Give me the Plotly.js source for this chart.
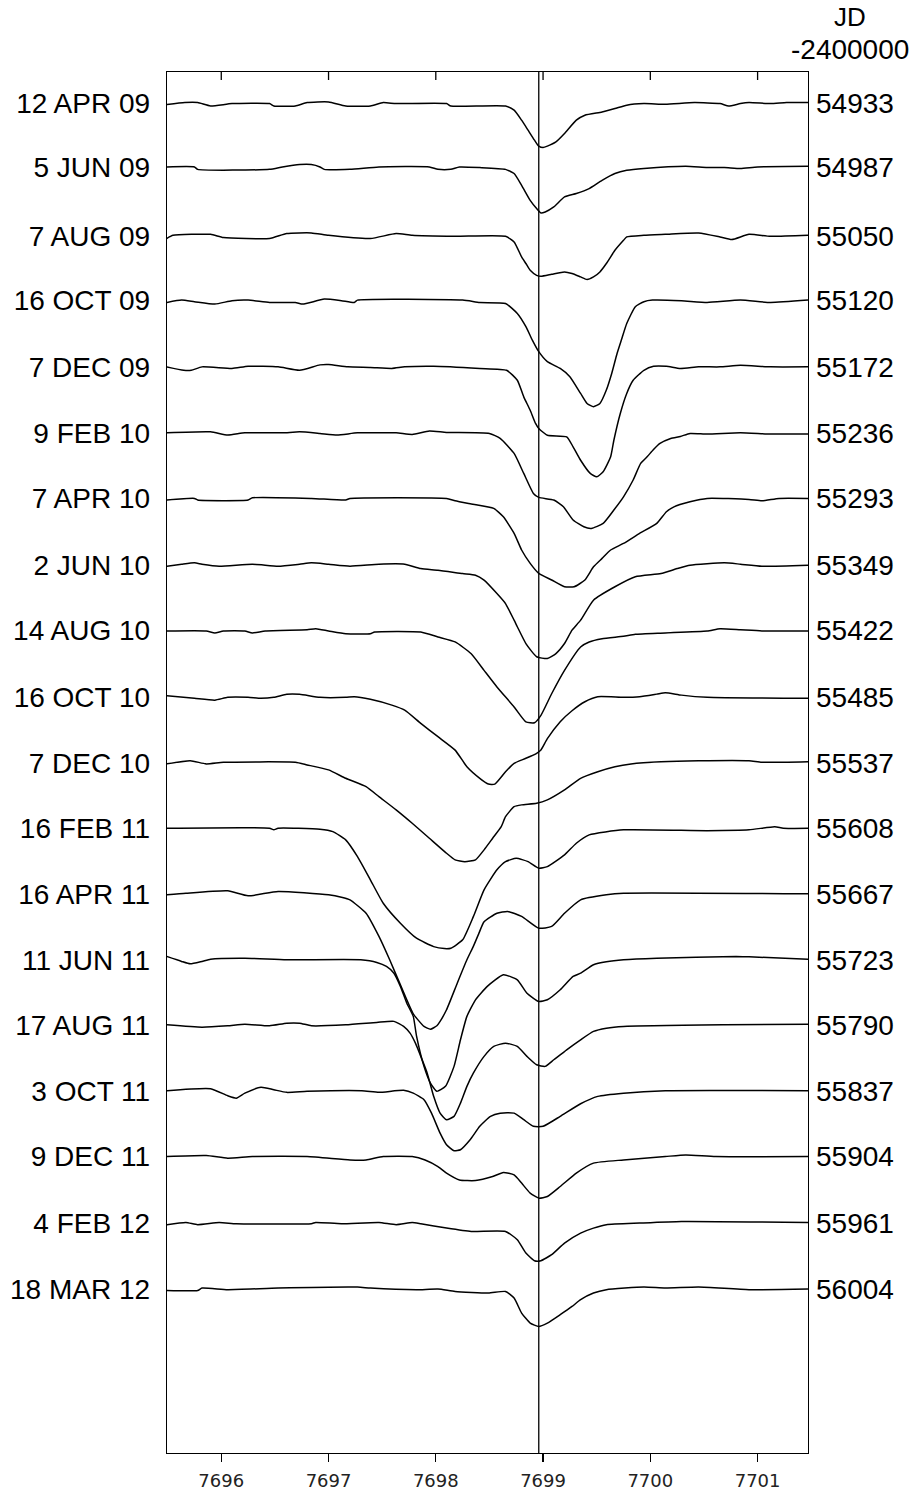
<!DOCTYPE html>
<html>
<head>
<meta charset="utf-8">
<script src="https://cdn.plot.ly/plotly-3.0.1.min.js"></script>
<style>html,body{margin:0;padding:0;background:#fff;}#chart{width:919px;height:1492px;}</style>
</head>
<body>
<div id="chart"></div>
<script>
// Observation dates (left labels) and Julian dates - 2400000 (right labels)
const dates = ["12 APR 09","5 JUN 09","7 AUG 09","16 OCT 09","7 DEC 09","9 FEB 10","7 APR 10","2 JUN 10","14 AUG 10","16 OCT 10","7 DEC 10","16 FEB 11","16 APR 11","11 JUN 11","17 AUG 11","3 OCT 11","9 DEC 11","4 FEB 12","18 MAR 12"];
const jds = ["54933","54987","55050","55120","55172","55236","55293","55349","55422","55485","55537","55608","55667","55723","55790","55837","55904","55961","56004"];
// vertical offset of each spectrum (continuum units)
const offsets = [0, 0.317, 0.662, 0.983, 1.317, 1.65, 1.975, 2.309, 2.635, 2.967, 3.30, 3.625, 3.953, 4.283, 4.608, 4.938, 5.267, 5.60, 5.93];
const xTicks = [7696, 7697, 7698, 7699, 7700, 7701];
const restWavelength = 7698.96;

// Spectra: [wavelength (A), normalized flux]
const spec_12APR09 = [[7695.49,0.995],[7695.66,1.005],[7695.78,1.005],[7695.90,0.988],[7696.10,1.0],[7696.45,1.0],[7696.49,0.988],[7696.69,0.988],[7696.80,1.005],[7697.0,1.008],[7697.16,0.988],[7697.39,0.988],[7697.51,1.005],[7697.63,1.0],[7698.10,1.0],[7698.14,0.988],[7698.65,0.988],[7698.73,0.967],[7698.80,0.917],[7698.86,0.867],[7698.92,0.817],[7698.96,0.787],[7699.0,0.78],[7699.04,0.787],[7699.12,0.808],[7699.20,0.85],[7699.31,0.917],[7699.39,0.942],[7699.55,0.958],[7699.67,0.975],[7699.78,0.992],[7699.94,1.0],[7700.14,0.997],[7700.41,1.005],[7700.65,1.0],[7700.73,0.988],[7700.84,1.0],[7700.92,1.005],[7701.12,1.0],[7701.27,1.005],[7701.47,1.005]];
const spec_5JUN09 = [[7695.49,1.0],[7695.75,1.0],[7695.78,0.988],[7696.45,0.988],[7696.57,1.0],[7696.73,1.012],[7696.84,1.012],[7696.92,1.0],[7696.96,0.988],[7697.20,0.988],[7697.47,1.0],[7697.94,1.0],[7698.02,0.988],[7698.14,0.988],[7698.22,1.0],[7698.41,0.997],[7698.65,0.988],[7698.73,0.967],[7698.80,0.908],[7698.88,0.833],[7698.94,0.792],[7698.98,0.77],[7699.02,0.775],[7699.10,0.80],[7699.20,0.85],[7699.31,0.867],[7699.43,0.892],[7699.55,0.933],[7699.67,0.967],[7699.78,0.983],[7699.94,0.992],[7700.33,1.003],[7700.53,0.997],[7700.69,0.997],[7700.84,0.992],[7701.0,1.0],[7701.47,1.003]];
const spec_7AUG09 = [[7695.49,0.987],[7695.55,1.003],[7695.90,1.008],[7696.02,0.992],[7696.45,0.987],[7696.61,1.012],[7696.84,1.015],[7697.0,1.003],[7697.39,0.987],[7697.63,1.012],[7697.78,1.003],[7698.18,0.998],[7698.65,0.998],[7698.73,0.97],[7698.80,0.895],[7698.84,0.862],[7698.88,0.828],[7698.94,0.803],[7698.98,0.798],[7699.08,0.808],[7699.20,0.82],[7699.27,0.812],[7699.35,0.795],[7699.41,0.782],[7699.47,0.795],[7699.53,0.82],[7699.59,0.862],[7699.65,0.912],[7699.67,0.928],[7699.75,0.978],[7699.78,0.995],[7699.94,1.003],[7700.14,1.008],[7700.45,1.015],[7700.65,0.995],[7700.76,0.982],[7700.92,1.008],[7701.12,0.998],[7701.47,1.003]];
const spec_16OCT09 = [[7695.49,0.988],[7695.63,1.0],[7695.75,0.992],[7695.94,0.98],[7696.10,0.997],[7696.25,1.0],[7696.45,0.988],[7696.69,0.988],[7696.76,0.98],[7696.96,1.005],[7697.12,0.997],[7697.24,0.988],[7697.27,1.0],[7698.25,1.0],[7698.41,0.988],[7698.65,0.983],[7698.76,0.933],[7698.84,0.867],[7698.90,0.8],[7698.96,0.742],[7699.04,0.692],[7699.16,0.658],[7699.25,0.617],[7699.35,0.533],[7699.41,0.483],[7699.47,0.467],[7699.53,0.483],[7699.59,0.55],[7699.64,0.633],[7699.69,0.733],[7699.73,0.8],[7699.78,0.883],[7699.86,0.967],[7699.94,0.992],[7700.02,1.0],[7700.29,0.997],[7700.53,0.988],[7700.84,1.0],[7701.12,0.988],[7701.47,1.0]];
const spec_7DEC09 = [[7695.49,1.0],[7695.65,0.983],[7695.72,0.983],[7695.82,1.0],[7696.10,0.992],[7696.25,1.003],[7696.53,1.0],[7696.73,0.983],[7696.92,1.01],[7697.0,1.012],[7697.18,1.0],[7697.39,0.997],[7697.59,0.992],[7697.71,1.0],[7697.98,1.003],[7698.41,0.992],[7698.66,0.983],[7698.76,0.933],[7698.82,0.85],[7698.88,0.783],[7698.93,0.717],[7698.96,0.692],[7699.04,0.658],[7699.22,0.65],[7699.28,0.6],[7699.35,0.533],[7699.44,0.467],[7699.50,0.45],[7699.56,0.475],[7699.63,0.55],[7699.66,0.633],[7699.72,0.767],[7699.78,0.867],[7699.84,0.933],[7699.94,0.983],[7700.03,1.003],[7700.15,1.003],[7700.28,0.992],[7700.45,1.0],[7700.65,1.0],[7700.84,1.008],[7701.12,1.0],[7701.47,1.0]];
const spec_9FEB10 = [[7695.49,1.003],[7695.90,1.008],[7696.06,0.992],[7696.22,1.003],[7696.57,1.003],[7696.73,1.008],[7696.92,1.0],[7697.08,0.992],[7697.27,1.003],[7697.63,1.003],[7697.78,0.995],[7697.94,1.012],[7698.10,1.005],[7698.50,1.0],[7698.60,0.975],[7698.73,0.9],[7698.82,0.8],[7698.91,0.7],[7698.96,0.68],[7699.10,0.667],[7699.19,0.633],[7699.28,0.567],[7699.38,0.533],[7699.45,0.525],[7699.56,0.55],[7699.66,0.617],[7699.75,0.683],[7699.84,0.767],[7699.91,0.85],[7699.97,0.883],[7700.03,0.92],[7700.09,0.95],[7700.19,0.975],[7700.28,0.985],[7700.37,1.0],[7700.53,0.997],[7700.84,1.003],[7701.12,0.997],[7701.47,0.997]];
const spec_7APR10 = [[7695.49,0.992],[7695.75,1.0],[7695.78,0.992],[7696.25,0.992],[7696.29,1.003],[7696.84,1.0],[7697.16,0.992],[7697.20,1.0],[7698.10,1.0],[7698.18,0.988],[7698.33,0.972],[7698.54,0.95],[7698.63,0.908],[7698.73,0.825],[7698.80,0.742],[7698.88,0.675],[7698.96,0.625],[7699.08,0.592],[7699.20,0.558],[7699.29,0.558],[7699.39,0.592],[7699.47,0.658],[7699.55,0.70],[7699.63,0.742],[7699.75,0.775],[7699.90,0.825],[7700.06,0.875],[7700.15,0.933],[7700.22,0.958],[7700.37,0.983],[7700.53,1.0],[7700.92,0.995],[7701.04,0.988],[7701.20,1.0],[7701.47,1.0]];
const spec_2JUN10 = [[7695.49,0.995],[7695.63,1.005],[7695.75,1.012],[7695.82,1.005],[7695.98,0.995],[7696.29,1.005],[7696.53,0.995],[7696.73,1.005],[7696.84,1.012],[7697.0,1.005],[7697.20,0.995],[7697.47,1.005],[7697.71,1.005],[7697.86,0.983],[7698.02,0.975],[7698.25,0.958],[7698.37,0.95],[7698.45,0.925],[7698.57,0.858],[7698.65,0.808],[7698.73,0.725],[7698.76,0.692],[7698.84,0.608],[7698.94,0.542],[7699.04,0.533],[7699.12,0.558],[7699.20,0.608],[7699.27,0.675],[7699.35,0.725],[7699.47,0.825],[7699.67,0.892],[7699.86,0.942],[7700.10,0.958],[7700.25,0.983],[7700.37,1.0],[7700.69,1.012],[7700.84,1.005],[7701.04,0.995],[7701.47,1.0]];
const spec_14AUG10 = [[7695.49,0.997],[7695.86,0.997],[7695.94,0.987],[7696.02,0.997],[7696.22,0.997],[7696.29,0.987],[7696.41,0.997],[7696.80,1.003],[7696.88,1.008],[7697.0,0.997],[7697.16,0.983],[7697.39,0.983],[7697.43,0.992],[7697.86,0.992],[7698.02,0.967],[7698.18,0.942],[7698.33,0.883],[7698.45,0.80],[7698.57,0.717],[7698.73,0.617],[7698.84,0.542],[7698.92,0.538],[7698.98,0.575],[7699.08,0.683],[7699.20,0.80],[7699.35,0.917],[7699.43,0.942],[7699.55,0.958],[7699.75,0.97],[7699.86,0.98],[7700.14,0.987],[7700.53,0.997],[7700.65,1.008],[7700.84,1.003],[7701.04,0.997],[7701.47,0.997]];
const spec_16OCT10 = [[7695.49,1.005],[7695.75,0.992],[7695.94,0.983],[7696.06,0.997],[7696.25,0.997],[7696.37,0.992],[7696.49,0.997],[7696.61,1.012],[7696.73,1.012],[7696.92,0.997],[7697.16,0.997],[7697.24,1.0],[7697.39,0.987],[7697.59,0.958],[7697.71,0.933],[7697.86,0.867],[7698.02,0.80],[7698.18,0.733],[7698.29,0.65],[7698.41,0.592],[7698.49,0.563],[7698.55,0.563],[7698.65,0.625],[7698.73,0.667],[7698.84,0.692],[7698.94,0.717],[7698.98,0.733],[7699.04,0.79],[7699.16,0.875],[7699.27,0.93],[7699.39,0.975],[7699.51,1.0],[7699.75,0.997],[7699.90,1.0],[7700.06,1.013],[7700.14,1.02],[7700.29,1.008],[7700.53,0.997],[7701.47,0.992]];
const spec_7DEC10 = [[7695.49,0.997],[7695.71,1.013],[7695.86,0.997],[7696.02,1.005],[7696.69,1.005],[7696.80,0.992],[7697.0,0.967],[7697.16,0.925],[7697.35,0.883],[7697.47,0.833],[7697.63,0.767],[7697.78,0.70],[7697.94,0.625],[7698.10,0.55],[7698.18,0.517],[7698.27,0.508],[7698.37,0.517],[7698.45,0.567],[7698.53,0.625],[7698.61,0.683],[7698.65,0.733],[7698.73,0.783],[7698.80,0.792],[7698.94,0.80],[7699.04,0.817],[7699.20,0.867],[7699.35,0.925],[7699.51,0.958],[7699.67,0.983],[7699.82,0.997],[7700.10,1.008],[7700.45,1.013],[7700.92,1.013],[7701.04,1.005],[7701.47,1.008]];
const spec_16FEB11 = [[7695.49,1.0],[7696.45,1.0],[7696.49,0.992],[7696.53,1.0],[7696.92,0.995],[7697.04,0.983],[7697.16,0.942],[7697.27,0.858],[7697.39,0.742],[7697.51,0.625],[7697.67,0.525],[7697.82,0.45],[7697.98,0.408],[7698.08,0.398],[7698.14,0.40],[7698.25,0.442],[7698.35,0.558],[7698.45,0.692],[7698.57,0.792],[7698.65,0.833],[7698.75,0.85],[7698.86,0.833],[7698.96,0.80],[7699.04,0.808],[7699.20,0.867],[7699.31,0.925],[7699.43,0.967],[7699.75,0.992],[7700.53,0.988],[7700.92,0.992],[7701.16,1.008],[7701.24,1.0],[7701.47,1.0]];
const spec_16APR11 = [[7695.49,0.995],[7695.67,1.003],[7696.06,1.015],[7696.25,0.99],[7696.53,1.012],[7697.0,0.995],[7697.12,0.983],[7697.20,0.97],[7697.35,0.903],[7697.47,0.787],[7697.57,0.67],[7697.67,0.545],[7697.79,0.40],[7697.89,0.337],[7697.95,0.323],[7698.01,0.34],[7698.04,0.362],[7698.10,0.42],[7698.20,0.553],[7698.29,0.67],[7698.35,0.737],[7698.40,0.80],[7698.45,0.86],[7698.57,0.903],[7698.67,0.912],[7698.80,0.887],[7698.96,0.828],[7699.08,0.837],[7699.20,0.903],[7699.35,0.97],[7699.59,0.995],[7699.75,1.003],[7701.47,1.0]];
const spec_11JUN11 = [[7695.49,1.017],[7695.63,0.992],[7695.71,0.98],[7695.82,0.992],[7695.90,1.003],[7696.22,1.008],[7696.61,1.0],[7697.30,1.0],[7697.45,0.987],[7697.54,0.967],[7697.61,0.933],[7697.67,0.867],[7697.73,0.783],[7697.79,0.717],[7697.82,0.62],[7697.89,0.467],[7697.95,0.383],[7698.01,0.342],[7698.09,0.367],[7698.17,0.467],[7698.23,0.60],[7698.29,0.717],[7698.37,0.80],[7698.48,0.867],[7698.63,0.925],[7698.76,0.90],[7698.85,0.833],[7698.96,0.792],[7699.04,0.80],[7699.16,0.85],[7699.28,0.917],[7699.35,0.933],[7699.47,0.975],[7699.59,0.99],[7699.75,1.0],[7700.06,1.008],[7700.80,1.017],[7700.92,1.015],[7701.47,1.003]];
const spec_17AUG11 = [[7695.49,1.0],[7695.82,0.988],[7696.06,0.995],[7696.22,1.003],[7696.45,0.995],[7696.61,1.008],[7696.73,1.008],[7696.84,0.995],[7697.16,1.0],[7697.45,1.012],[7697.61,1.017],[7697.70,0.992],[7697.76,0.958],[7697.81,0.908],[7697.86,0.842],[7697.92,0.758],[7697.98,0.642],[7698.04,0.558],[7698.10,0.525],[7698.17,0.542],[7698.23,0.608],[7698.29,0.692],[7698.35,0.758],[7698.45,0.842],[7698.54,0.892],[7698.65,0.908],[7698.76,0.892],[7698.85,0.842],[7698.94,0.80],[7699.02,0.792],[7699.10,0.825],[7699.22,0.875],[7699.35,0.925],[7699.47,0.967],[7699.59,0.983],[7699.75,0.992],[7700.69,1.0],[7701.47,1.003]];
const spec_3OCT11 = [[7695.49,1.0],[7695.90,1.01],[7696.06,0.975],[7696.14,0.963],[7696.22,0.988],[7696.37,1.018],[7696.49,1.005],[7696.61,0.992],[7696.80,0.997],[7697.31,1.0],[7697.47,0.992],[7697.70,1.002],[7697.79,0.988],[7697.89,0.955],[7697.96,0.888],[7698.04,0.788],[7698.10,0.73],[7698.17,0.70],[7698.23,0.705],[7698.32,0.755],[7698.41,0.822],[7698.51,0.872],[7698.60,0.888],[7698.73,0.888],[7698.82,0.855],[7698.91,0.822],[7699.0,0.822],[7699.16,0.872],[7699.35,0.935],[7699.51,0.972],[7699.75,0.988],[7700.14,1.0],[7701.47,1.0]];
const spec_9DEC11 = [[7695.49,1.0],[7695.86,1.005],[7696.06,0.992],[7696.29,1.0],[7696.80,1.0],[7697.20,0.983],[7697.35,0.983],[7697.51,1.0],[7697.78,1.0],[7697.90,0.983],[7698.02,0.95],[7698.10,0.917],[7698.22,0.883],[7698.37,0.88],[7698.53,0.90],[7698.63,0.92],[7698.73,0.908],[7698.80,0.867],[7698.88,0.817],[7698.96,0.792],[7699.04,0.80],[7699.16,0.85],[7699.31,0.917],[7699.47,0.967],[7699.75,0.983],[7700.14,1.0],[7700.33,1.008],[7700.61,1.0],[7701.47,1.0]];
const spec_4FEB12 = [[7695.49,0.992],[7695.67,1.003],[7695.78,0.992],[7695.98,1.003],[7696.14,0.997],[7696.84,0.997],[7696.88,1.003],[7697.12,0.997],[7697.47,1.003],[7697.63,0.992],[7697.78,1.003],[7697.86,0.997],[7698.10,0.975],[7698.33,0.958],[7698.65,0.958],[7698.76,0.917],[7698.84,0.85],[7698.92,0.812],[7698.98,0.812],[7699.08,0.842],[7699.20,0.90],[7699.35,0.95],[7699.47,0.975],[7699.59,0.992],[7699.90,1.0],[7700.29,1.008],[7701.47,1.003]];
const spec_18MAR12 = [[7695.49,0.993],[7695.78,0.993],[7695.82,1.005],[7696.06,0.997],[7696.53,1.005],[7697.27,1.01],[7697.39,1.005],[7697.82,0.997],[7698.02,1.0],[7698.18,0.988],[7698.49,0.98],[7698.65,0.988],[7698.73,0.955],[7698.80,0.88],[7698.88,0.83],[7698.96,0.813],[7699.04,0.83],[7699.16,0.872],[7699.27,0.913],[7699.35,0.947],[7699.47,0.98],[7699.59,0.997],[7699.94,1.01],[7700.14,1.005],[7700.45,1.01],[7700.92,0.997],[7701.47,1.0]];

const spectra = [spec_12APR09, spec_5JUN09, spec_7AUG09, spec_16OCT09, spec_7DEC09, spec_9FEB10, spec_7APR10, spec_2JUN10, spec_14AUG10, spec_16OCT10, spec_7DEC10, spec_16FEB11, spec_16APR11, spec_11JUN11, spec_17AUG11, spec_3OCT11, spec_9DEC11, spec_4FEB12, spec_18MAR12];

const xRange = [7695.494, 7701.47];
const yRange = [-5.75, 1.158];
const baseVals = offsets.map(o => 1 - o);
const plotH = 1492 - 72 - 39;

const traces = spectra.map((s, i) => ({
  type: 'scatter', mode: 'lines',
  x: s.map(p => p[0]),
  y: s.map(p => p[1] - offsets[i]),
  line: {color: '#000', width: 1.5, shape: 'spline', smoothing: 0.5},
  name: dates[i], hoverinfo: 'skip', showlegend: false
}));
// helper trace carrying the right-hand axis
traces.push({type: 'scatter', mode: 'lines', x: [null], y: [null], yaxis: 'y2', showlegend: false, hoverinfo: 'skip'});

const labelFont = {family: 'Liberation Sans, Arial, sans-serif', size: 28, color: '#000'};
const jdFont = {family: 'Liberation Sans, Arial, sans-serif', size: 26, color: '#000'};

// inward tick marks along the top frame, at the same wavelengths as the bottom axis ticks
const topTicks = xTicks.map(t => ({type: 'line', xref: 'x', yref: 'paper', x0: t, x1: t, y0: 1, y1: 1 - 8 / plotH,
                                   line: {color: '#000', width: 1.3}}));

const layout = {
  width: 919, height: 1492,
  margin: {l: 167, r: 111, t: 72, b: 39},
  paper_bgcolor: '#fff', plot_bgcolor: '#fff',
  showlegend: false,
  xaxis: {
    range: xRange, tickmode: 'array', tickvals: xTicks, ticktext: xTicks.map(String),
    ticks: 'outside', ticklen: 8, tickwidth: 1.3, tickcolor: '#000',
    showline: true, mirror: true, linecolor: '#000', linewidth: 1.3,
    showgrid: false, zeroline: false,
    tickfont: {family: 'DejaVu Sans, Verdana, sans-serif', size: 18, color: '#222'},
    ticklabelstandoff: 3
  },
  yaxis: {
    range: yRange, tickmode: 'array', tickvals: baseVals, ticktext: dates,
    ticks: '', showline: true, mirror: true, linecolor: '#000', linewidth: 1.3,
    showgrid: false, zeroline: false, tickfont: labelFont, ticklabelstandoff: 10
  },
  yaxis2: {
    overlaying: 'y', side: 'right', anchor: 'x', range: yRange,
    tickmode: 'array', tickvals: baseVals, ticktext: jds,
    ticks: '', showline: false, showgrid: false, zeroline: false,
    tickfont: labelFont, ticklabelstandoff: 7
  },
  shapes: [{type: 'line', xref: 'x', yref: 'paper', x0: restWavelength, x1: restWavelength, y0: 0, y1: 1,
            line: {color: '#000', width: 1.3}}].concat(topTicks),
  annotations: [
    {text: 'JD', xref: 'paper', yref: 'paper', x: 1.0655, y: 1.040, xanchor: 'center', yanchor: 'middle',
     showarrow: false, font: jdFont},
    {text: '-2400000', xref: 'paper', yref: 'paper', x: 1.0655, y: 1.0165, xanchor: 'center', yanchor: 'middle',
     showarrow: false, font: labelFont}
  ]
};

Plotly.newPlot('chart', traces, layout, {displayModeBar: false, staticPlot: true});
</script>
</body>
</html>
